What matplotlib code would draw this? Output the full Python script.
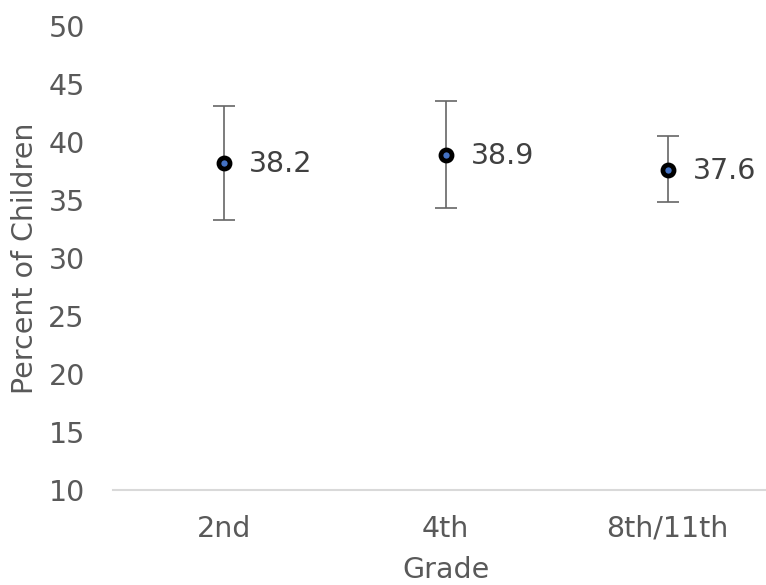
import matplotlib
matplotlib.use("Agg")
import matplotlib.pyplot as plt

categories = ["2nd", "4th", "8th/11th"]
values = [38.2, 38.9, 37.6]
lower = [33.25, 34.3, 34.8]
upper = [43.1, 43.55, 40.5]
yticks = [10, 15, 20, 25, 30, 35, 40, 45, 50]

plt.rcParams['font.family'] = ['DejaVu Sans']
FS = 20.5

fig = plt.figure(figsize=(7.66, 5.85), dpi=100)
ax = fig.add_axes([0.147, 0.1624, 0.853, 0.7932])

x = list(range(len(categories)))
yerr = [[v - l for v, l in zip(values, lower)], [u - v for v, u in zip(values, upper)]]
ax.errorbar(x, values, yerr=yerr, fmt='none', ecolor='#666666', elinewidth=1.2,
            capsize=8, capthick=1.2, zorder=2)
ax.plot(x, values, linestyle='none', marker='o', markersize=8, markeredgewidth=3.4,
        markerfacecolor='#4472c4', markeredgecolor='black', zorder=3)
for xi, v in zip(x, values):
    ax.annotate(f"{v:.1f}", (xi, v), xytext=(18, -1), textcoords='offset points',
                va='center', ha='left', fontsize=FS, color='#404040')

ax.set_xlim(-0.5, 2.443)
ax.set_ylim(10, 50)
ax.set_yticks(yticks)
ax.set_xticks(x)
ax.set_xticklabels(categories)
for s in ['top', 'right', 'left']:
    ax.spines[s].set_visible(False)
ax.spines['bottom'].set_color('#d9d9d9')
ax.spines['bottom'].set_linewidth(1.5)
ax.tick_params(axis='both', length=0, labelsize=FS, labelcolor='#595959')
ax.tick_params(axis='y', pad=20)
ax.tick_params(axis='x', pad=18)
ax.set_xlabel("Grade", fontsize=FS, color='#595959')
ax.xaxis.set_label_coords(0.51, -0.143)
ax.set_ylabel("Percent of Children", fontsize=FS, color='#595959')
ax.yaxis.set_label_coords(-0.113, 0.5)

fig.savefig("out.png", dpi=100)
